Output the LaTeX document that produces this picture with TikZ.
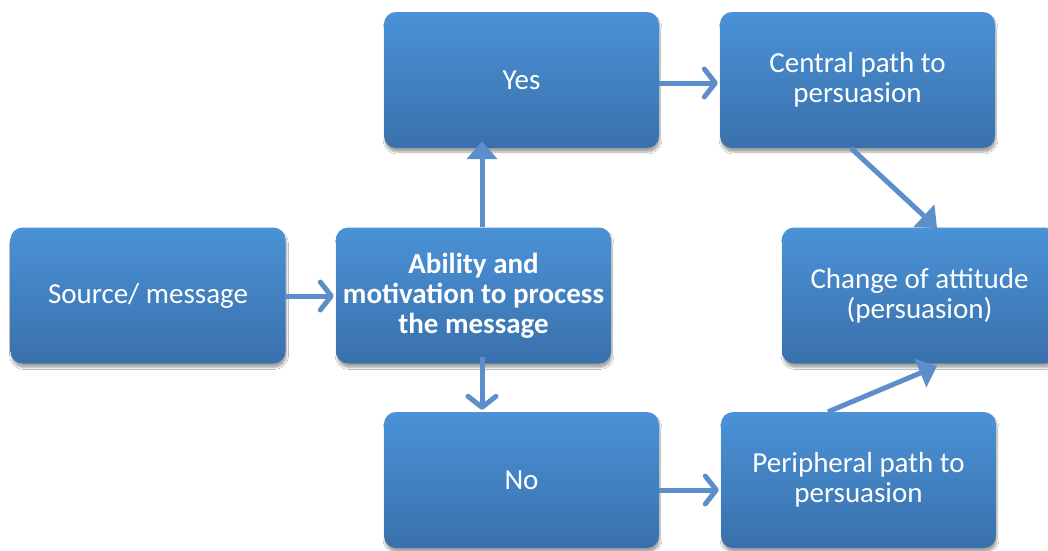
\documentclass[tikz,border=0pt]{standalone}
\usepackage{fontspec}
\setmainfont{Carlito}
\usetikzlibrary{arrows.meta,shadows.blur}
\definecolor{boxtop}{HTML}{4B92D7}
\definecolor{boxbot}{HTML}{3970AB}
\definecolor{arrowblue}{HTML}{5C8FC9}
\tikzset{
  stagebox/.style={rectangle, rounded corners=12pt, minimum width=275pt, minimum height=136pt,
    top color=boxtop, bottom color=boxbot, draw=none, text=white, align=center,
    font=\fontsize{29}{30}\selectfont, inner sep=0pt,
    blur shadow={shadow xshift=1pt, shadow yshift=-4pt, shadow blur steps=6, shadow opacity=35}},
  flow/.style={draw=arrowblue, line width=5pt},
  barb/.style={flow, -{Straight Barb[length=11pt,width=28pt,line width=5pt,round]}},
  tri/.style={flow, -{Triangle[length=18pt,width=30pt]}, arrowblue},
}
\begin{document}
\begin{tikzpicture}[x=1pt,y=-1pt]
\useasboundingbox (0,0) rectangle (1048,550);
\fill[white] (0,0) rectangle (1048,550);

\node[stagebox] (src) at (148,295.5) {Source/ message};
\node[stagebox, font=\fontsize{29}{30}\selectfont\bfseries] (abl) at (473.5,295.5) {Ability and\\motivation to process\\the message};
\node[stagebox] (yes) at (521.5,80) {Yes};
\node[stagebox] (no) at (521.5,480) {No};
\node[stagebox] (cen) at (857.5,80) {Central path to\\persuasion};
\node[stagebox] (per) at (858.5,480) {Peripheral path to\\persuasion};
\node[stagebox] (chg) at (919.5,295.5) {Change of attitude\\(persuasion)};

\coordinate (srcR) at (src.east |- 0,296);
\coordinate (ablL) at (abl.west |- 0,296);
\draw[barb] (srcR) -- ([xshift=-2pt]ablL);

\coordinate (ablT) at (abl.north -| 482,0);
\coordinate (yesB) at (yes.south -| 482,0);
\draw[tri] (ablT) -- ([yshift=7pt]yesB);

\coordinate (ablB) at ([yshift=7pt]abl.south -| 482,0);
\coordinate (noT) at ([yshift=2pt]no.north -| 482,0);
\draw[barb] (ablB) -- (noT);

\coordinate (yesR) at (yes.east |- 0,83);
\coordinate (cenL) at (cen.west |- 0,83);
\draw[barb] (yesR) -- ([xshift=-2pt]cenL);

\coordinate (noR) at (no.east |- 0,490);
\coordinate (perL) at (per.west |- 0,490);
\draw[barb] (noR) -- ([xshift=-2pt]perL);

\coordinate (cenB) at (cen.south -| 851,0);
\coordinate (chgT) at (937,228);
\draw[tri] (cenB) -- (chgT);

\coordinate (perT) at (per.north -| 828,0);
\coordinate (chgB) at (937,366);
\draw[tri] (perT) -- (chgB);
\end{tikzpicture}
\end{document}
